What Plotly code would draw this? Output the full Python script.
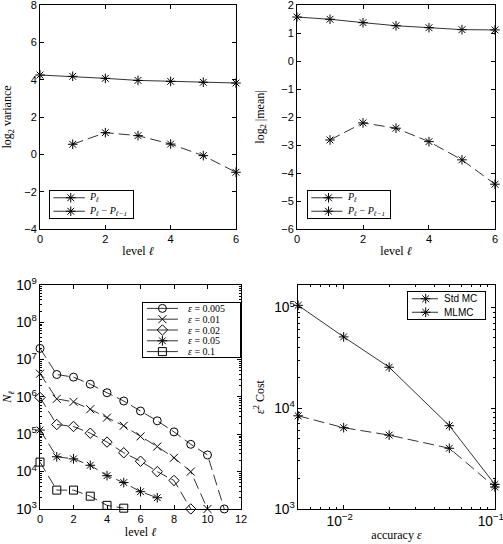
import plotly.graph_objects as go

# ---------------- data ----------------
levels6 = [0, 1, 2, 3, 4, 5, 6]
var_P = [4.25, 4.18, 4.07, 3.96, 3.91, 3.86, 3.82]
var_dP = [None, 0.54, 1.16, 1.00, 0.55, -0.07, -0.96]
mean_P = [1.57, 1.49, 1.37, 1.26, 1.19, 1.12, 1.11]
mean_dP = [None, -2.82, -2.21, -2.40, -2.88, -3.53, -4.40]

eps_labels = ["0.005", "0.01", "0.02", "0.05", "0.1"]
N_005 = [2.0e7, 4.0e6, 3.4e6, 2.2e6, 1.3e6, 7.8e5, 4.2e5, 2.3e5, 1.16e5, 5.4e4, 2.8e4, 1.0e3]
N_01 = [4.2e6, 8.9e5, 7.4e5, 4.7e5, 2.8e5, 1.7e5, 8.8e4, 4.7e4, 2.35e4, 1.0e4, 1.0e3]
N_02 = [9.7e5, 1.83e5, 1.62e5, 1.07e5, 6.2e4, 3.2e4, 1.9e4, 1.0e4, 5.8e3, 1.0e3]
N_05 = [1.3e5, 2.5e4, 2.2e4, 1.48e4, 7.8e3, 5.1e3, 2.9e3, 2.0e3]
N_1 = [1.8e4, 3.2e3, 3.2e3, 2.2e3, 1.25e3, 1.05e3]
N_series = [N_005, N_01, N_02, N_05, N_1]
N_symbols = ["circle-open", "x-thin-open", "diamond-open", "asterisk-open", "square-open"]

accuracy = [0.005, 0.01, 0.02, 0.05, 0.1]
cost_std = [1.05e5, 5.1e4, 2.55e4, 6.7e3, 1.75e3]
cost_mlmc = [8.4e3, 6.4e3, 5.4e3, 4.0e3, 1.65e3]

P_labels = ["<i>P<sub>ℓ</sub></i>", "<i>P<sub>ℓ</sub></i> − <i>P<sub>ℓ−1</sub></i>"]
cost_labels = ["Std MC", "MLMC"]

# ---------------- layout helpers ----------------
W, H = 503, 544
def xd(a, b):
    return [a / W, b / W]
def yd(top, bottom):
    return [1 - bottom / H, 1 - top / H]

SANS = "Liberation Sans, Arial, sans-serif"
SERIF = "Liberation Serif, Times New Roman, serif"
BLACK = "#000000"
LINE = "#333333"
DASH = "11px,5px"

fig = go.Figure()

def add(x, y, xa, ya, dash=None, symbol="asterisk-open", size=8):
    fig.add_trace(go.Scatter(
        x=x, y=y, xaxis=xa, yaxis=ya, mode="lines+markers", cliponaxis=False,
        line=dict(color=LINE, width=1, dash=dash or "solid"),
        marker=dict(symbol=symbol, size=size, color=BLACK, line=dict(width=1, color=BLACK)),
        showlegend=False, connectgaps=False, hoverinfo="skip",
    ))

# Panel 1: log2 variance
add(levels6, var_P, "x", "y")
add(levels6, var_dP, "x", "y", dash=DASH)
# Panel 2: log2 |mean|
add(levels6, mean_P, "x2", "y2")
add(levels6, mean_dP, "x2", "y2", dash=DASH)
# Panel 3: N_l
for Ns, sym in zip(N_series, N_symbols):
    add(list(range(len(Ns))), Ns, "x3", "y3", dash=DASH, symbol=sym)
# Panel 4: cost
add(accuracy, cost_std, "x4", "y4")
add(accuracy, cost_mlmc, "x4", "y4", dash=DASH)

axis_common = dict(
    showline=True, linecolor=BLACK, linewidth=1, mirror="allticks",
    ticks="inside", ticklen=4, tickcolor=BLACK, showgrid=False, zeroline=False,
    automargin=False, ticklabeloverflow="allow",
    tickfont=dict(family=SANS, size=11, color=BLACK),
    title_font=dict(family=SERIF, size=12, color=BLACK),
)
minor_log = dict(ticks="inside", ticklen=2, tickcolor=BLACK, showgrid=False)

# ---------------- custom boxed legends (compact, like the original) ----------------
legend_axes = {}
def make_legend(idx, box, labels, symbols, font, line_x, mark_x, text_x):
    xa, ya = f"x{idx}", f"y{idx}"
    n = len(labels)
    for i, (lab, sym) in enumerate(zip(labels, symbols)):
        fig.add_trace(go.Scatter(
            x=line_x, y=[i + 0.5, i + 0.5], xaxis=xa, yaxis=ya, mode="lines",
            line=dict(color=LINE, width=1), showlegend=False, hoverinfo="skip"))
        fig.add_trace(go.Scatter(
            x=[mark_x], y=[i + 0.5], xaxis=xa, yaxis=ya, mode="markers",
            marker=dict(symbol=sym, size=8, color=BLACK, line=dict(width=1, color=BLACK)),
            showlegend=False, hoverinfo="skip"))
        fig.add_annotation(x=text_x, y=i + 0.5, xref=xa, yref=ya, text=lab,
                           xanchor="left", yanchor="middle", showarrow=False, font=font)
    left, right, top, bottom = box
    legend_axes[f"xaxis{idx}"] = dict(domain=xd(left, right), range=[0, 1], anchor=ya,
                                      showline=True, mirror=True, linecolor=BLACK, linewidth=1,
                                      showticklabels=False, ticks="", showgrid=False,
                                      zeroline=False, fixedrange=True, automargin=False)
    legend_axes[f"yaxis{idx}"] = dict(domain=yd(top, bottom), range=[n, 0], anchor=xa,
                                      showline=True, mirror=True, linecolor=BLACK, linewidth=1,
                                      showticklabels=False, ticks="", showgrid=False,
                                      zeroline=False, fixedrange=True, automargin=False)

serif_leg = dict(family=SERIF, size=10, color=BLACK)
sans_leg = dict(family=SANS, size=10, color=BLACK)
make_legend(5, (50, 133, 191, 218), P_labels, ["asterisk-open"] * 2, serif_leg, [0.04, 0.42], 0.25, 0.45)
make_legend(6, (308, 390, 191, 218), P_labels, ["asterisk-open"] * 2, serif_leg, [0.04, 0.42], 0.25, 0.45)
make_legend(7, (143, 240, 303, 357), [f"<i>ε</i> = {e}" for e in eps_labels], N_symbols, serif_leg,
            [0.04, 0.36], 0.2, 0.44)
make_legend(8, (408, 485, 292, 319), cost_labels, ["asterisk-open"] * 2, sans_leg, [0.05, 0.39], 0.23, 0.44)

fig.update_layout(
    width=W, height=H, margin=dict(l=0, r=0, t=0, b=0, autoexpand=False),
    paper_bgcolor="white", plot_bgcolor="white",
    xaxis=dict(axis_common, domain=xd(40, 236), range=[-0.001, 6.001], dtick=2, anchor="y",
               title=dict(text="level <i>ℓ</i>", standoff=2)),
    yaxis=dict(axis_common, domain=yd(5, 229), range=[-4, 8], dtick=2, anchor="x",
               title=dict(text="log<sub>2</sub> variance", standoff=14)),
    xaxis2=dict(axis_common, domain=xd(297, 495), range=[-0.001, 6.001], dtick=2, anchor="y2",
                title=dict(text="level <i>ℓ</i>", standoff=2)),
    yaxis2=dict(axis_common, domain=yd(5, 229), range=[-6, 2], dtick=1, anchor="x2",
                title=dict(text="log<sub>2</sub> |mean|", standoff=14)),
    xaxis3=dict(axis_common, domain=xd(40, 241), range=[-0.001, 12], dtick=2, anchor="y3",
                title=dict(text="level <i>ℓ</i>", standoff=0)),
    yaxis3=dict(axis_common, domain=yd(285, 509), type="log", range=[2.999, 9], dtick=1,
                exponentformat="power", anchor="x3", minor=minor_log,
                title=dict(text="<i>N<sub>ℓ</sub></i>", standoff=6)),
    xaxis4=dict(axis_common, domain=xd(298, 495), type="log", range=[-2.302, -0.999], dtick=1,
                exponentformat="power", anchor="y4", minor=minor_log, ticklabelshift=-4,
                title=dict(text="accuracy <i>ε</i>", standoff=2)),
    yaxis4=dict(axis_common, domain=yd(285, 509), type="log", range=[2.999, 5.223], dtick=1,
                exponentformat="power", anchor="x4", minor=minor_log,
                title=dict(text="<i>ε</i><sup>2</sup> Cost", standoff=6)),
    **legend_axes,
)

fig.write_html("out.html", config={"displayModeBar": False},
               post_script="document.body.style.margin='0px';")
